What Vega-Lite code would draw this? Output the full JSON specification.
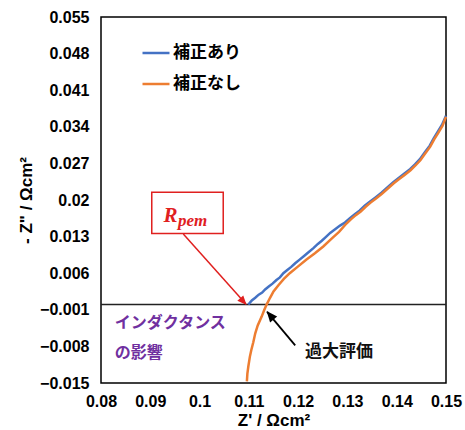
{
  "$schema": "https://vega.github.io/schema/vega-lite/v6.json",
  "width": 345,
  "height": 366,
  "autosize": {"type": "none"},
  "padding": {"left": 101, "top": 17, "right": 19, "bottom": 47},
  "background": "#ffffff",
  "config": {
    "view": {"stroke": "#000000", "strokeWidth": 1.5},
    "axis": {
      "labelFont": "Liberation Sans",
      "labelFontWeight": "bold",
      "labelFontSize": 16,
      "labelColor": "#000000",
      "titleFont": "Liberation Sans",
      "titleFontWeight": "bold",
      "titleFontSize": 17,
      "titleColor": "#000000",
      "ticks": false,
      "domain": false,
      "grid": false,
      "labelFlush": false,
      "labelOverlap": false
    }
  },
  "encoding": {
    "x": {
      "field": "zr",
      "type": "quantitative",
      "scale": {"domain": [0.08, 0.15], "nice": false, "zero": false},
      "axis": {
        "title": "Z' / Ωcm²",
        "values": [0.08, 0.09, 0.1, 0.11, 0.12, 0.13, 0.14, 0.15],
        "format": "~g",
        "labelPadding": 10,
        "titlePadding": 3
      }
    },
    "y": {
      "field": "zi",
      "type": "quantitative",
      "scale": {"domain": [-0.015, 0.055], "nice": false, "zero": false},
      "axis": {
        "title": "- Z\" / Ωcm²",
        "values": [-0.015, -0.008, -0.001, 0.006, 0.013, 0.02, 0.027, 0.034, 0.041, 0.048, 0.055],
        "format": "~g",
        "labelPadding": 12,
        "titlePadding": 4
      }
    }
  },
  "layer": [
    {
      "data": {"values": [{"zr": 0.08, "zr2": 0.15, "zi": 0}]},
      "mark": {"type": "rule", "color": "#222222", "strokeWidth": 1.5},
      "encoding": {"x2": {"field": "zr2"}}
    },
    {
      "data": {
        "values": [
          {"series": "補正あり", "zr": 0.1099, "zi": 0.0000},
          {"series": "補正あり", "zr": 0.1106, "zi": 0.0008},
          {"series": "補正あり", "zr": 0.1113, "zi": 0.0013},
          {"series": "補正あり", "zr": 0.1120, "zi": 0.0019},
          {"series": "補正あり", "zr": 0.1127, "zi": 0.0023},
          {"series": "補正あり", "zr": 0.1133, "zi": 0.0029},
          {"series": "補正あり", "zr": 0.1141, "zi": 0.0035},
          {"series": "補正あり", "zr": 0.1148, "zi": 0.0040},
          {"series": "補正あり", "zr": 0.1156, "zi": 0.0047},
          {"series": "補正あり", "zr": 0.1163, "zi": 0.0052},
          {"series": "補正あり", "zr": 0.1170, "zi": 0.0060},
          {"series": "補正あり", "zr": 0.1178, "zi": 0.0066},
          {"series": "補正あり", "zr": 0.1186, "zi": 0.0072},
          {"series": "補正あり", "zr": 0.1194, "zi": 0.0079},
          {"series": "補正あり", "zr": 0.1203, "zi": 0.0086},
          {"series": "補正あり", "zr": 0.1212, "zi": 0.0093},
          {"series": "補正あり", "zr": 0.1221, "zi": 0.0100},
          {"series": "補正あり", "zr": 0.1231, "zi": 0.0108},
          {"series": "補正あり", "zr": 0.1240, "zi": 0.0116},
          {"series": "補正あり", "zr": 0.1248, "zi": 0.0122},
          {"series": "補正あり", "zr": 0.1256, "zi": 0.0129},
          {"series": "補正あり", "zr": 0.1265, "zi": 0.0137},
          {"series": "補正あり", "zr": 0.1275, "zi": 0.0144},
          {"series": "補正あり", "zr": 0.1285, "zi": 0.0151},
          {"series": "補正あり", "zr": 0.1295, "zi": 0.0157},
          {"series": "補正あり", "zr": 0.1305, "zi": 0.0165},
          {"series": "補正あり", "zr": 0.1315, "zi": 0.0173},
          {"series": "補正あり", "zr": 0.1325, "zi": 0.0180},
          {"series": "補正あり", "zr": 0.1335, "zi": 0.0189},
          {"series": "補正あり", "zr": 0.1346, "zi": 0.0197},
          {"series": "補正あり", "zr": 0.1357, "zi": 0.0205},
          {"series": "補正あり", "zr": 0.1369, "zi": 0.0214},
          {"series": "補正あり", "zr": 0.1381, "zi": 0.0224},
          {"series": "補正あり", "zr": 0.1393, "zi": 0.0234},
          {"series": "補正あり", "zr": 0.1404, "zi": 0.0242},
          {"series": "補正あり", "zr": 0.1415, "zi": 0.0250},
          {"series": "補正あり", "zr": 0.1427, "zi": 0.0259},
          {"series": "補正あり", "zr": 0.1437, "zi": 0.0268},
          {"series": "補正あり", "zr": 0.1447, "zi": 0.0278},
          {"series": "補正あり", "zr": 0.1456, "zi": 0.0290},
          {"series": "補正あり", "zr": 0.1467, "zi": 0.0304},
          {"series": "補正あり", "zr": 0.1475, "zi": 0.0318},
          {"series": "補正あり", "zr": 0.1483, "zi": 0.0330},
          {"series": "補正あり", "zr": 0.1492, "zi": 0.0344},
          {"series": "補正あり", "zr": 0.1500, "zi": 0.0361},
          {"series": "補正なし", "zr": 0.1096, "zi": -0.0147},
          {"series": "補正なし", "zr": 0.1097, "zi": -0.0132},
          {"series": "補正なし", "zr": 0.1099, "zi": -0.0118},
          {"series": "補正なし", "zr": 0.1102, "zi": -0.0100},
          {"series": "補正なし", "zr": 0.1105, "zi": -0.0087},
          {"series": "補正なし", "zr": 0.1109, "zi": -0.0072},
          {"series": "補正なし", "zr": 0.1113, "zi": -0.0055},
          {"series": "補正なし", "zr": 0.1118, "zi": -0.0040},
          {"series": "補正なし", "zr": 0.1126, "zi": -0.0023},
          {"series": "補正なし", "zr": 0.1131, "zi": -0.0011},
          {"series": "補正なし", "zr": 0.1136, "zi": 0.0000},
          {"series": "補正なし", "zr": 0.1143, "zi": 0.0013},
          {"series": "補正なし", "zr": 0.1150, "zi": 0.0025},
          {"series": "補正なし", "zr": 0.1160, "zi": 0.0037},
          {"series": "補正なし", "zr": 0.1171, "zi": 0.0049},
          {"series": "補正なし", "zr": 0.1183, "zi": 0.0060},
          {"series": "補正なし", "zr": 0.1200, "zi": 0.0073},
          {"series": "補正なし", "zr": 0.1217, "zi": 0.0086},
          {"series": "補正なし", "zr": 0.1234, "zi": 0.0098},
          {"series": "補正なし", "zr": 0.1251, "zi": 0.0111},
          {"series": "補正なし", "zr": 0.1268, "zi": 0.0126},
          {"series": "補正なし", "zr": 0.1283, "zi": 0.0139},
          {"series": "補正なし", "zr": 0.1298, "zi": 0.0155},
          {"series": "補正なし", "zr": 0.1307, "zi": 0.0163},
          {"series": "補正なし", "zr": 0.1317, "zi": 0.0171},
          {"series": "補正なし", "zr": 0.1327, "zi": 0.0178},
          {"series": "補正なし", "zr": 0.1337, "zi": 0.0187},
          {"series": "補正なし", "zr": 0.1347, "zi": 0.0195},
          {"series": "補正なし", "zr": 0.1358, "zi": 0.0203},
          {"series": "補正なし", "zr": 0.1370, "zi": 0.0212},
          {"series": "補正なし", "zr": 0.1382, "zi": 0.0222},
          {"series": "補正なし", "zr": 0.1394, "zi": 0.0232},
          {"series": "補正なし", "zr": 0.1405, "zi": 0.0240},
          {"series": "補正なし", "zr": 0.1416, "zi": 0.0248},
          {"series": "補正なし", "zr": 0.1428, "zi": 0.0257},
          {"series": "補正なし", "zr": 0.1438, "zi": 0.0266},
          {"series": "補正なし", "zr": 0.1448, "zi": 0.0276},
          {"series": "補正なし", "zr": 0.1457, "zi": 0.0288},
          {"series": "補正なし", "zr": 0.1468, "zi": 0.0302},
          {"series": "補正なし", "zr": 0.1476, "zi": 0.0316},
          {"series": "補正なし", "zr": 0.1484, "zi": 0.0328},
          {"series": "補正なし", "zr": 0.1493, "zi": 0.0342},
          {"series": "補正なし", "zr": 0.1500, "zi": 0.0359}
        ]
      },
      "mark": {"type": "line", "strokeWidth": 2.5},
      "encoding": {
        "color": {
          "field": "series",
          "type": "nominal",
          "scale": {"domain": ["補正あり", "補正なし"], "range": ["#4472C4", "#ED7D31"]},
          "legend": {
            "orient": "none",
            "legendX": 40,
            "legendY": 21,
            "title": null,
            "symbolType": "stroke",
            "symbolSize": 729,
            "symbolStrokeWidth": 2.5,
            "labelFont": "Noto Sans CJK JP",
            "labelFontSize": 17,
            "labelFontWeight": "bold",
            "labelColor": "#000000",
            "labelOffset": 2,
            "rowPadding": 8
          }
        }
      }
    },
    {
      "data": {"values": [{"zr": 0.0903, "zr2": 0.1048, "zi": 0.0215, "zi2": 0.0136}]},
      "mark": {"type": "rect", "fill": "#ffffff", "stroke": "#E0201F", "strokeWidth": 1.5},
      "encoding": {"x2": {"field": "zr2"}, "y2": {"field": "zi2"}}
    },
    {
      "data": {"values": [{"zr": 0.0927, "zi": 0.0157, "label": "R"}]},
      "mark": {"type": "text", "font": "Liberation Serif", "fontStyle": "italic", "fontWeight": "bold", "fontSize": 21, "color": "#E0201F", "align": "left", "baseline": "alphabetic"},
      "encoding": {"text": {"field": "label"}}
    },
    {
      "data": {"values": [{"zr": 0.0956, "zi": 0.0150, "label": "pem"}]},
      "mark": {"type": "text", "font": "Liberation Serif", "fontStyle": "italic", "fontWeight": "bold", "fontSize": 17, "color": "#E0201F", "align": "left", "baseline": "alphabetic"},
      "encoding": {"text": {"field": "label"}}
    },
    {
      "data": {"values": [{"zr": 0.0967, "zi": 0.0135, "zr2": 0.1094, "zi2": 0.0001}]},
      "mark": {"type": "rule", "color": "#E0201F", "strokeWidth": 1.5},
      "encoding": {"x2": {"field": "zr2"}, "y2": {"field": "zi2"}}
    },
    {
      "data": {"values": [{"zr": 0.10955, "zi": -0.0001}]},
      "mark": {"type": "point", "shape": "M0,0 L-0.42,1 L0.42,1 Z", "size": 360, "angle": 138, "filled": true, "color": "#E0201F", "opacity": 1}
    },
    {
      "data": {"values": [{"zr": 0.1194, "zi": -0.0078, "zr2": 0.1137, "zi2": -0.0014}]},
      "mark": {"type": "rule", "color": "#000000", "strokeWidth": 1.8},
      "encoding": {"x2": {"field": "zr2"}, "y2": {"field": "zi2"}}
    },
    {
      "data": {"values": [{"zr": 0.1136, "zi": -0.00125}]},
      "mark": {"type": "point", "shape": "M0,0 L-0.42,1 L0.42,1 Z", "size": 480, "angle": 320, "filled": true, "color": "#000000", "opacity": 1}
    },
    {
      "data": {"values": [{"zr": 0.0828, "zi": -0.0036, "label": "インダクタンス"}, {"zr": 0.0828, "zi": -0.0093, "label": "の影響"}]},
      "mark": {"type": "text", "font": "Noto Sans CJK JP", "fontWeight": "bold", "fontSize": 16, "color": "#7030A0", "align": "left", "baseline": "middle"},
      "encoding": {"text": {"field": "label"}}
    },
    {
      "data": {"values": [{"zr": 0.1214, "zi": -0.0090, "label": "過大評価"}]},
      "mark": {"type": "text", "font": "Noto Sans CJK JP", "fontWeight": "bold", "fontSize": 17, "color": "#111111", "align": "left", "baseline": "middle"},
      "encoding": {"text": {"field": "label"}}
    }
  ]
}
